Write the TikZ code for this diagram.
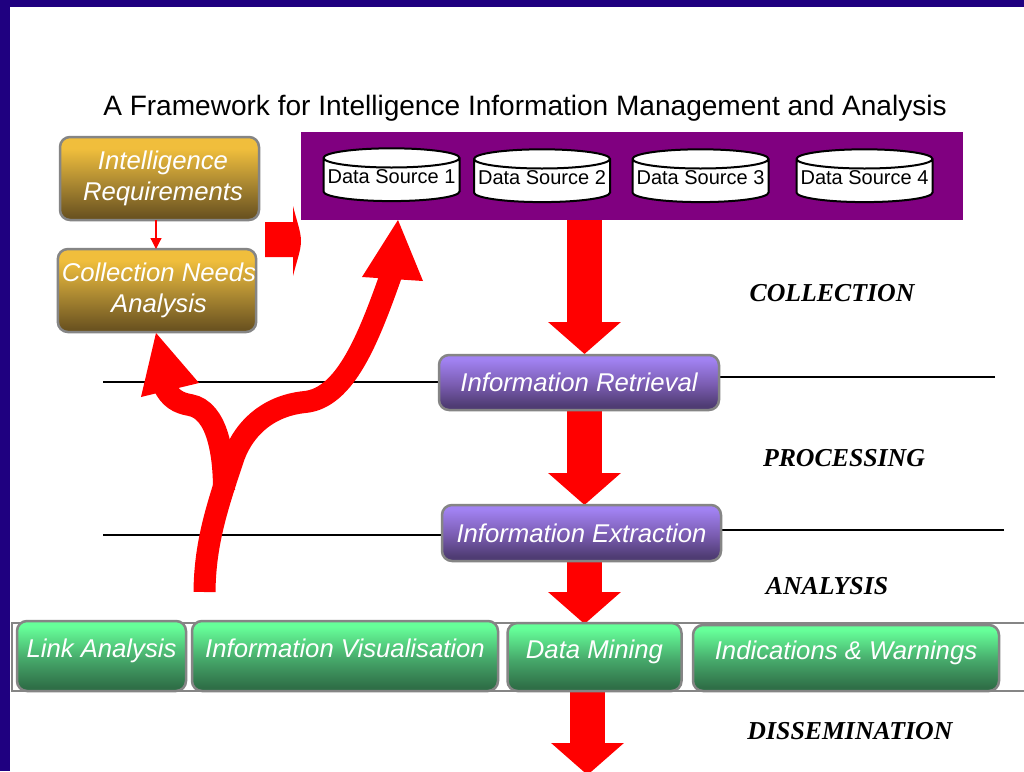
\documentclass[tikz,border=0pt]{standalone}
\usepackage{fontspec}
\setmainfont{Liberation Sans}
\newfontfamily\serifb{Liberation Serif}
\usetikzlibrary{arrows.meta,shapes.geometric}
\definecolor{navy}{HTML}{1F0080}
\definecolor{panelc}{HTML}{800080}
\definecolor{edgec}{HTML}{858585}
\definecolor{redc}{HTML}{FF0000}
\definecolor{goldA}{HTML}{6B5320}
\definecolor{goldB}{HTML}{AD8A32}
\definecolor{goldC}{HTML}{F0BE3C}
\definecolor{purpA}{HTML}{4F3C73}
\definecolor{purpB}{HTML}{7A5CB0}
\definecolor{purpC}{HTML}{A182F2}
\definecolor{greenA}{HTML}{2F6F47}
\definecolor{greenB}{HTML}{46A86A}
\definecolor{greenC}{HTML}{66FF99}
\pgfdeclareverticalshading{goldsh}{100bp}{color(0bp)=(goldA);color(27bp)=(goldA);color(48bp)=(goldB);color(68bp)=(goldC);color(100bp)=(goldC)}
\pgfdeclareverticalshading{purplesh}{100bp}{color(0bp)=(purpA);color(29bp)=(purpA);color(48bp)=(purpB);color(71bp)=(purpC);color(100bp)=(purpC)}
\pgfdeclareverticalshading{greensh}{100bp}{color(0bp)=(greenA);color(28bp)=(greenA);color(48bp)=(greenB);color(71bp)=(greenC);color(100bp)=(greenC)}
\tikzset{
  boxbase/.style={rectangle,rounded corners=10pt,draw=edgec,line width=2.5pt,inner sep=0pt,outer sep=0pt,
    text=white,align=center,font=\itshape\fontsize{25.7}{31}\selectfont},
  goldbox/.style={boxbase,shade,shading=goldsh},
  purplebox/.style={boxbase,shade,shading=purplesh},
  greenbox/.style={boxbase,shade,shading=greensh,text height=19pt,text depth=17pt},
  disk/.style={cylinder,shape border rotate=90,shape aspect=0.15,draw=black,line width=2pt,fill=white,inner sep=0pt,outer sep=0pt,
    minimum width=136pt,minimum height=52pt,text height=14.5pt,text depth=8.5pt,font=\fontsize{20}{24}\selectfont},
  stagelab/.style={font=\serifb\bfseries\itshape\fontsize{25.8}{30}\selectfont,inner sep=0pt},
  rule/.style={draw=black,line width=2.5pt},
  bigarrow/.style={draw=redc,line width=35pt,-{Triangle[width=71pt,length=32pt,fill=redc]}},
  branch/.style={draw=redc,line width=22pt}
}
\begin{document}
\begin{tikzpicture}[x=1pt,y=-1pt]
\useasboundingbox (0,0) rectangle (1024,771);
\fill[white] (0,0) rectangle (1024,771);
\fill[navy] (0,0) rectangle (1024,7);
\fill[navy] (0,0) rectangle (10,771);
\node[inner sep=0pt,font=\fontsize{28.05}{32}\selectfont] (title) at (525,108) {A Framework for Intelligence Information Management and Analysis};
\node[rectangle,draw=edgec,line width=1.5pt,fill=white,minimum width=1014pt,minimum height=68pt,inner sep=0pt] (band) at (519,657) {};
\node[rectangle,fill=panelc,minimum width=662pt,minimum height=88pt,inner sep=0pt,outer sep=0pt] (panel) at (632,176) {};
\node[disk] (d1) at (391.5,180) {Data Source 1};
\node[disk] (d2) at (542,181) {Data Source 2};
\node[disk] (d3) at (700.5,181) {Data Source 3};
\node[disk] (d4) at (864.5,181) {Data Source 4};
% coordinates
\coordinate (l1) at (103,382);
\coordinate (r1) at (995,377);
\coordinate (l2) at (103,535);
\coordinate (r2) at (1004,530);
\coordinate (a1s) at (584.5,220);
\coordinate (a1e) at (584.5,354);
\coordinate (a2s) at (584.5,410);
\coordinate (a2e) at (584.5,505);
\coordinate (a3s) at (584.5,561);
\coordinate (a3e) at (584.5,624);
\coordinate (a4s) at (587.5,690);
\coordinate (a4e) at (587.5,775);
% nodes
\node[goldbox,minimum width=199pt,minimum height=83pt] (ireq) at (159.5,178.5) {\hspace*{7pt}Intelligence\\\hspace*{7pt}Requirements};
\node[goldbox,minimum width=198pt,minimum height=83pt] (cna) at (157,290.5) {\hspace*{4pt}Collection Needs\\\hspace*{4pt}Analysis};
\draw[rule] (l1) -- (l1 -| 439,382);
\draw[rule] (r1) -- (r1 -| 719,377);
\draw[rule] (l2) -- (l2 -| 442,535);
\draw[rule] (r2) -- (r2 -| 721,530);
\draw[bigarrow] (a1s) -- (a1e);
\draw[bigarrow] (a2s) -- (a2e);
\draw[bigarrow] (a3s) -- (a3e);
\draw[bigarrow] (a4s) -- (a4e);
\node[purplebox,minimum width=280pt,minimum height=55pt] (ir) at (579,382.5) {Information Retrieval};
\node[purplebox,minimum width=279pt,minimum height=56pt] (ie) at (581.5,533) {Information Extraction};
\node[greenbox,minimum width=169pt,minimum height=70pt] (la) at (101.5,656) {Link Analysis};
\node[greenbox,minimum width=306pt,minimum height=70pt] (iv) at (345,656) {Information Visualisation};
\node[greenbox,minimum width=174pt,minimum height=68pt] (dm) at (594.5,657) {Data Mining};
\node[greenbox,minimum width=306pt,minimum height=66pt] (iw) at (846,658) {Indications \& Warnings};
% small arrows
\draw[draw=redc,line width=1.2pt,-{Triangle[width=11pt,length=11pt,fill=redc]}] (ireq.south -| 156,220) -- (cna.north -| 156,249);
\coordinate (sa) at (265,222);
\fill[redc] (sa) -- (293,222) -- (293,206) .. controls (297,222) and (301,232) .. (301,241) .. controls (301,250) and (297,260) .. (293,276) -- (293,257) -- (265,257) -- cycle;
% curved arrow
\coordinate (st) at (204.5,592);
\draw[branch] (st) .. controls (205,545) and (216,510) .. (232,462) .. controls (241,432) and (265,406) .. (305,402)
  .. controls (345,398) and (368,340) .. (391,275);
\draw[branch] (224,490) .. controls (224,455) and (218,410) .. (190,405) .. controls (178,403) and (170,398) .. (164,386);
\fill[redc] (398,220) -- (362,277) -- (423,281) -- cycle;
\fill[redc] (156,333) -- (141,397) -- (199,383) -- cycle;
% stage labels
\node[stagelab] (s1) at (832,293) {COLLECTION};
\node[stagelab] (s2) at (844,458) {PROCESSING};
\node[stagelab] (s3) at (827,586) {ANALYSIS};
\node[stagelab] (s4) at (850,731) {DISSEMINATION};
\end{tikzpicture}
\end{document}
